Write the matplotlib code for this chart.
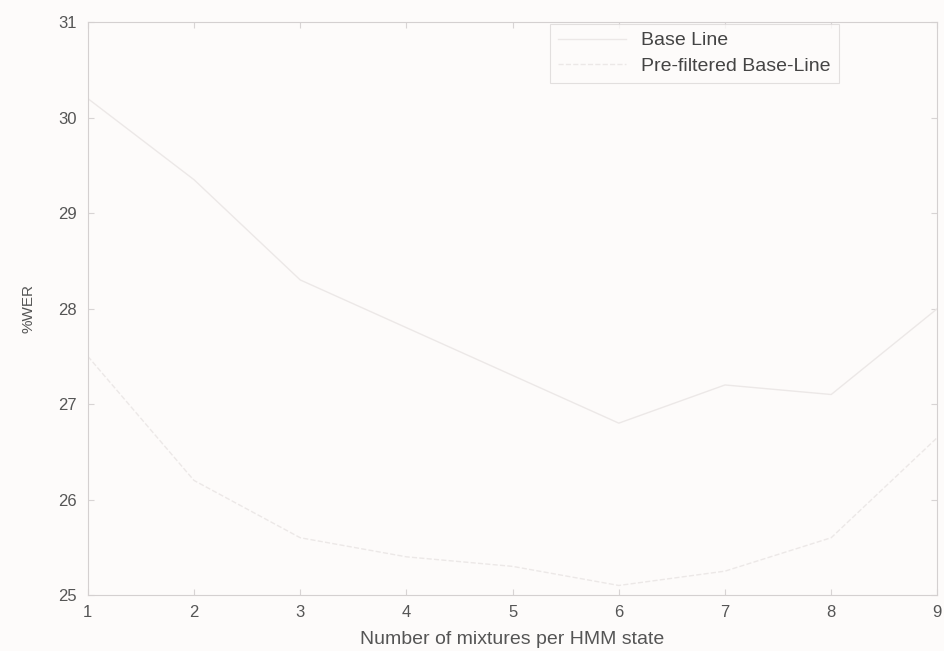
import matplotlib.pyplot as plt

plt.rcParams['font.family'] = ['Liberation Sans', 'DejaVu Sans']

# mixtures per HMM state
mixtures = [1, 2, 3, 4, 5, 6, 7, 8, 9]
# %WER (estimates)
base_line = [30.2, 29.35, 28.3, 27.8, 27.3, 26.8, 27.2, 27.1, 28.0]
prefiltered = [27.5, 26.2, 25.6, 25.4, 25.3, 25.1, 25.25, 25.6, 26.65]

xticks = [1, 2, 3, 4, 5, 6, 7, 8, 9]
yticks = [25, 26, 27, 28, 29, 30, 31]

fig = plt.figure(figsize=(9.44, 6.51), dpi=100)
fig.patch.set_facecolor('#fdfbfa')
ax = fig.add_axes([0.093, 0.086, 0.9, 0.88])
ax.set_facecolor('#fdfbfa')

# the scan is washed out, lines are barely visible
ax.plot(mixtures, base_line, '-', color='#ece8e7', lw=1.0, label='Base Line')
ax.plot(mixtures, prefiltered, '--', color='#ece8e7', lw=1.0, label='Pre-filtered Base-Line')

ax.set_xlim(1, 9)
ax.set_ylim(25, 31)
ax.set_xticks(xticks)
ax.set_yticks(yticks)
ax.tick_params(direction='in', length=4, color='#d8d4d4', labelcolor='#555555', labelsize=12,
               top=True, right=True)
ax.tick_params(axis='y', pad=8)
ax.tick_params(axis='x', pad=7)
for s in ax.spines.values():
    s.set_color('#d4d0d0')
    s.set_linewidth(0.8)

ax.set_xlabel('Number of mixtures per HMM state', color='#555555', fontsize=14, labelpad=8)
ax.set_ylabel('%WER', color='#555555', fontsize=11, labelpad=16)

leg = ax.legend(loc='upper right', bbox_to_anchor=(0.886, 1.0), borderaxespad=0.1, fontsize=14,
                fancybox=False, frameon=True, edgecolor='#dcd8d8', facecolor='#fdfbfa',
                handlelength=3.5, borderpad=0.4, labelspacing=0.4, handletextpad=0.8)
leg.get_frame().set_linewidth(0.8)
for t in leg.get_texts():
    t.set_color('#444444')

fig.savefig('out.png', dpi=100, facecolor=fig.get_facecolor())
